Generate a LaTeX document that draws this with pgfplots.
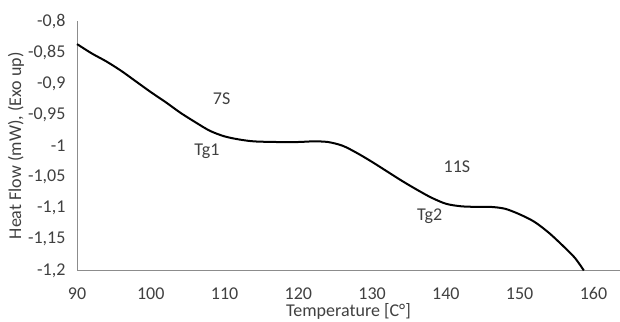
\documentclass[border=0pt]{standalone}
\usepackage{fontspec}
\setmainfont{Carlito}
\usepackage{pgfplots}
\pgfplotsset{compat=1.18}
\definecolor{axgray}{HTML}{8C8C8C}
\definecolor{txt}{HTML}{404040}
\pgfplotstableread{
T v
90 -0.837
92 -0.852
94 -0.865
96 -0.880
98 -0.897
100 -0.914
102 -0.930
104 -0.947
106 -0.962
108 -0.976
110 -0.985
112 -0.990
114 -0.993
117 -0.994
120 -0.994
122 -0.993
124 -0.994
126 -1.000
128 -1.012
130 -1.026
132 -1.041
134 -1.056
136 -1.070
138 -1.083
140 -1.093
142 -1.097
144 -1.098
146 -1.098
148 -1.101
150 -1.110
152 -1.122
154 -1.140
156 -1.162
157.5 -1.180
158.7 -1.200
}\dsc
\begin{document}
\fontsize{13.5}{16}\selectfont
\begin{tikzpicture}
\begin{axis}[
  scale only axis, width=407pt, height=187pt,
  xmin=90, xmax=163.6, ymin=-1.2, ymax=-0.8,
  axis x line*=bottom, axis y line*=left,
  axis line style={-, draw=axgray, line width=0.75pt},
  xtick={90,100,110,120,130,140,150,160},
  ytick={-1.2,-1.15,-1.1,-1.05,-1,-0.95,-0.9,-0.85,-0.8},
  major tick length=0pt,
  /pgf/number format/assume math mode=true,
  tick label style={font=\fontsize{13.5}{16}\selectfont, text=txt},
  yticklabel style={/pgf/number format/.cd, use comma, fixed, precision=2, /tikz/.cd, xshift=-4pt},
  xticklabel style={/pgf/number format/1000 sep={}, yshift=-8pt},
  xlabel={Temperature [C°]},
  ylabel={Heat Flow (mW), (Exo up)},
  label style={font=\fontsize{13.5}{16}\selectfont, text=txt},
  xlabel style={at={(axis description cs:0.5,0)}, anchor=north, yshift=-20pt},
  ylabel style={at={(axis description cs:-0.1125,0.5)}, anchor=center, rotate=0},
  clip=false,
]
\addplot[black, line width=1.5pt, smooth, tension=0.5] table[x=T, y=v] {\dsc};
\node[text=txt] at (axis cs:109.6,-0.925) {7S};
\node[text=txt] at (axis cs:107.6,-1.009) {Tg1};
\node[text=txt] at (axis cs:141.5,-1.033) {11S};
\node[text=txt] at (axis cs:137.8,-1.113) {Tg2};
\end{axis}
\pgfresetboundingbox
\path ([xshift=-57.75pt,yshift=-38.25pt]current axis.south west) rectangle ([yshift=15.75pt]current axis.north east);
\end{tikzpicture}
\end{document}
